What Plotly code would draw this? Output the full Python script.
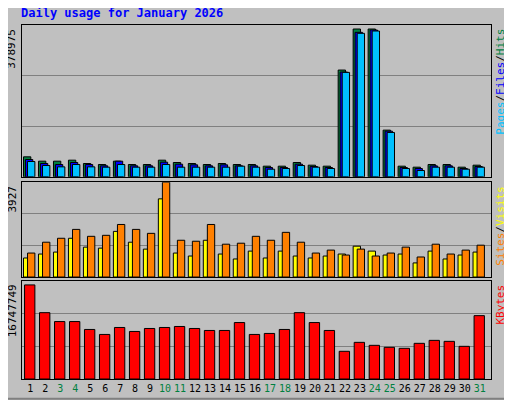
import plotly.graph_objects as go
from plotly.subplots import make_subplots

days = list(range(1, 32))
weekend = {3, 4, 10, 11, 17, 18, 24, 25, 31}
hits = [49980, 39150, 39150, 41650, 33320, 30820, 39150, 30820, 30820, 41650, 35820, 33320, 30820, 33320, 30820, 30820, 26660, 26660, 35820, 29150, 26660, 266560, 369000, 369000, 116620, 26660, 24160, 30820, 30820, 24160, 29150]
files = [43320, 33320, 30820, 35820, 30820, 27490, 39150, 27490, 27490, 36650, 31660, 29990, 27490, 29990, 27490, 27490, 23330, 23330, 31660, 25820, 23330, 261550, 360700, 366500, 114120, 23330, 20830, 27490, 27490, 20830, 25820]
pages = [38320, 28320, 24990, 30820, 24990, 24160, 30820, 24160, 24160, 30820, 24160, 24160, 24160, 24160, 26660, 24160, 19160, 20830, 28320, 24160, 20830, 260720, 358200, 364000, 110800, 20830, 15830, 24160, 24160, 19160, 24160]
sites = [789, 952, 1034, 1605, 1238, 1197, 1890, 1442, 1156, 3237, 993, 870, 1523, 952, 748, 1074, 789, 1074, 870, 789, 870, 952, 1278, 1074, 911, 952, 585, 1074, 748, 911, 1034]
visits = [993, 1442, 1605, 1972, 1686, 1727, 2176, 1972, 1809, 3927, 1523, 1482, 2176, 1360, 1401, 1686, 1523, 1850, 1442, 993, 1115, 911, 1156, 870, 993, 1238, 830, 1360, 952, 1115, 1319]
kbytes = [16070000, 11330000, 9810000, 9810000, 8460000, 7610000, 8800000, 8120000, 8630000, 8800000, 8970000, 8630000, 8290000, 8290000, 9640000, 7610000, 7780000, 8460000, 11330000, 9640000, 8290000, 4730000, 6260000, 5750000, 5410000, 5240000, 6090000, 6600000, 6430000, 5580000, 10820000]
max_top, max_mid, max_bot = 378975, 3927, 16747749

fig = make_subplots(rows=3, cols=1, shared_xaxes=False, vertical_spacing=0.0)
line = dict(color="black", width=1)
W = 0.49
fig.add_bar(x=days, y=hits, width=W, offset=-0.45, marker=dict(color="#008040", line=line), row=1, col=1)
fig.add_bar(x=days, y=files, width=W, offset=-0.32, marker=dict(color="#0000ff", line=line), row=1, col=1)
fig.add_bar(x=days, y=pages, width=W, offset=-0.18, marker=dict(color="#00c0ff", line=line), row=1, col=1)
fig.add_bar(x=days, y=sites, width=W, offset=-0.45, marker=dict(color="#ffff00", line=line), row=2, col=1)
fig.add_bar(x=days, y=visits, width=W, offset=-0.18, marker=dict(color="#ff8000", line=line), row=2, col=1)
fig.add_bar(x=days, y=kbytes, width=0.69, offset=-0.38, marker=dict(color="#ff0000", line=line), row=3, col=1)

ticktext = [f'<span style="color:{"#008040" if d in weekend else "black"}">{d}</span>' for d in days]
doms = [(0.571, 1.0), (0.288, 0.556), (0.0, 0.277)]
maxes = [max_top, max_mid, max_bot]
for i in range(3):
    n = "" if i == 0 else str(i + 1)
    fig.layout["yaxis" + n].update(domain=doms[i], range=[0, maxes[i]], tickvals=[maxes[i] / 3, 2 * maxes[i] / 3],
                                  showticklabels=False, showgrid=True, gridcolor="#808080", gridwidth=1,
                                  showline=True, linecolor="black", mirror=True, zeroline=False, ticks="")
    fig.layout["xaxis" + n].update(range=[0.45, 31.75], showgrid=False, showline=True, linecolor="black",
                                  mirror=True, zeroline=False, showticklabels=(i == 2), ticks="", tickangle=0,
                                  tickvals=days, ticktext=ticktext, tickfont=dict(family="DejaVu Sans Mono", size=10))
    fig.add_annotation(xref="paper", yref="paper", x=-0.003, y=doms[i][1] - 0.005, text=str(maxes[i]), textangle=-90,
                       showarrow=False, xanchor="right", yanchor="top", font=dict(family="DejaVu Sans Mono", size=11, color="black"))

legs = [('<span style="color:#00c0ff">Pages</span>/<span style="color:#0000ff">Files</span>/<span style="color:#008040">Hits</span>', doms[0]),
        ('<span style="color:#ff8000">Sites</span>/<span style="color:#ffff00">Visits</span>', doms[1]),
        ('<span style="color:#ff0000">KBytes</span>', doms[2])]
for t, d in legs:
    fig.add_annotation(xref="paper", yref="paper", x=1.003, y=d[1] - 0.005, text=t, textangle=-90, showarrow=False,
                       xanchor="left", yanchor="top", font=dict(family="DejaVu Sans Mono", size=11, color="black"))

fig.add_annotation(xref="paper", yref="paper", x=-0.006, y=1.0, yshift=3, text="<b>Daily usage for January 2026</b>",
                   showarrow=False, xanchor="left", yanchor="bottom", font=dict(family="DejaVu Sans Mono", size=12, color="#0000ff"))

fig.update_layout(width=504, height=392, barmode="overlay", showlegend=False,
                  margin=dict(l=14, r=21, t=17, b=21, autoexpand=False), paper_bgcolor="#c0c0c0", plot_bgcolor="#c0c0c0",
                  shapes=[dict(type="rect", xref="paper", yref="paper", x0=-0.045, x1=1.04, y0=-0.056, y1=1.068,
                               line=dict(color="#808080", width=2))])
fig.write_html("out.html")
